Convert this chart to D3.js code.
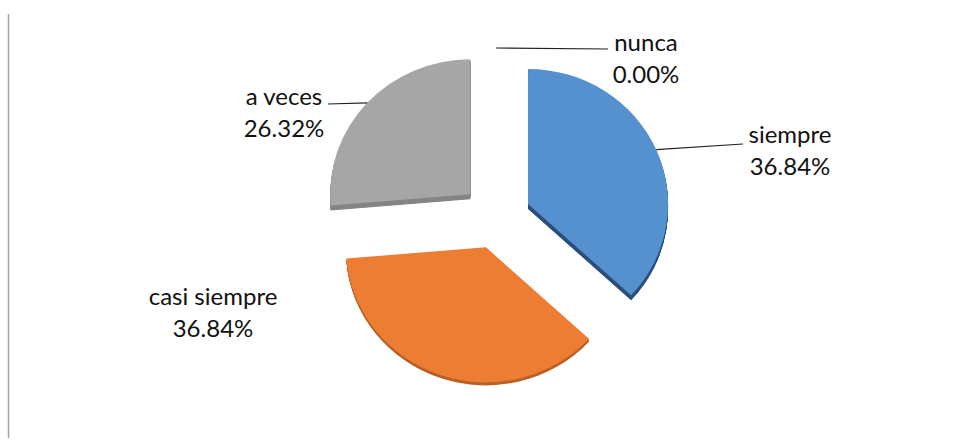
<!DOCTYPE html>
<html>
<head>
<meta charset="utf-8">
<script src="https://cdn.jsdelivr.net/npm/d3@7"></script>
<style>
  html, body { margin: 0; padding: 0; background: #fff; }
  svg { display: block; }
</style>
</head>
<body>
<svg id="chart" width="954" height="441"></svg>
<script>
// Survey answers and their shares (%)
const categories = ["siempre", "casi siempre", "a veces", "nunca"];
const values = [36.84, 36.84, 26.32, 0.00];

// Slice colours: top face and darker side wall
const topColors = ["#5590cf", "#ec7d32", "#a6a6a6", "#ffc000"];
const sideColors = ["#2b4f7c", "#b8612a", "#858585", "#b88a00"];

// Layout of the tilted, exploded pie
const W = 954, H = 441;
const cx = 496, cy = 218;          // pie centre before explosion
const rx = 140, ry = 135;          // radii of the tilted disc
const explode = [35, 31, 35, 35];  // distance each slice is pulled out
const depth = [5, 3, 5, 0];        // visible thickness of each slice

// Label anchors (text centre x, first baseline y, end of leader line)
const labelLayout = {
  "siempre":      { x: 790, y: 143, lead: [743, 144] },
  "casi siempre": { x: 213, y: 305, lead: null },
  "a veces":      { x: 284, y: 105, lead: [328, 104] },
  "nunca":        { x: 646, y: 51,  lead: [608, 49] }
};
const lineGap = 32;

const svg = d3.select("#chart");

// frame line on the left edge
svg.append("line")
  .attr("x1", 8.5).attr("x2", 8.5)
  .attr("y1", 14).attr("y2", 438)
  .attr("stroke", "#a3a3a3").attr("stroke-width", 1.5);

const pie = d3.pie().sort(null).value(d => d.value)
  .startAngle(0).endAngle(2 * Math.PI);
const rows = categories.map((c, i) => ({ name: c, value: values[i], i }));
const arcs = pie(rows);

// unit arc, stretched to the ellipse with a transform
const arc = d3.arc().innerRadius(0).outerRadius(1);

arcs.forEach(a => {
  const mid = (a.startAngle + a.endAngle) / 2;
  const e = explode[a.data.i];
  a.mid = mid;
  a.cx = cx + e * Math.sin(mid);
  a.cy = cy - e * Math.cos(mid);
});

const slices = svg.append("g").attr("class", "slices");

arcs.filter(a => a.value > 0).forEach(a => {
  const g = slices.append("g");
  const d = arc(a);
  // side wall: stacked darker copies below the top face
  for (let k = depth[a.data.i]; k >= 1; k -= 0.5) {
    g.append("path")
      .attr("d", d)
      .attr("transform", `translate(${a.cx},${a.cy + k}) scale(${rx},${ry})`)
      .attr("fill", sideColors[a.data.i]);
  }
  // top face
  g.append("path")
    .attr("d", d)
    .attr("transform", `translate(${a.cx},${a.cy}) scale(${rx},${ry})`)
    .attr("fill", topColors[a.data.i]);
});

// labels and leader lines
const fmt = v => d3.format(".2f")(v) + "%";
const labels = svg.append("g").attr("class", "labels")
  .attr("font-family", "Lato, 'Open Sans', sans-serif")
  .attr("font-size", 24)
  .attr("fill", "#111");

arcs.forEach(a => {
  const L = labelLayout[a.data.name];
  if (L.lead) {
    const px = a.cx + rx * Math.sin(a.mid);
    const py = a.cy - ry * Math.cos(a.mid);
    labels.append("line")
      .attr("x1", px).attr("y1", py)
      .attr("x2", L.lead[0]).attr("y2", L.lead[1])
      .attr("stroke", "#222").attr("stroke-width", 1.2);
  }
  const t = labels.append("text").attr("text-anchor", "middle");
  t.append("tspan").attr("x", L.x).attr("y", L.y).text(a.data.name);
  t.append("tspan").attr("x", L.x).attr("y", L.y + lineGap).text(fmt(a.data.value));
});
</script>
</body>
</html>
